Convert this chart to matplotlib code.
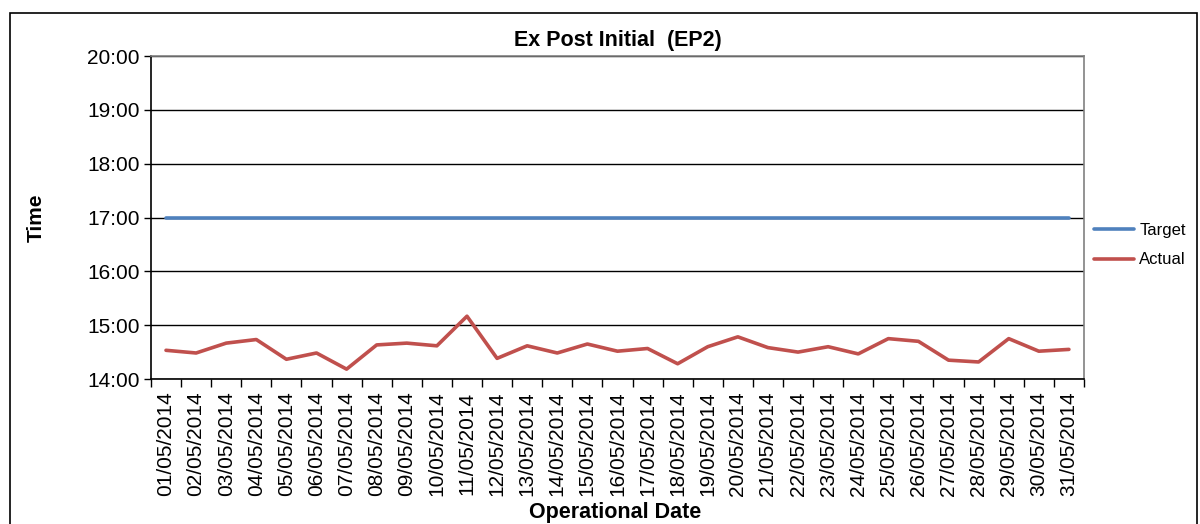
import matplotlib.pyplot as plt
from matplotlib.patches import Rectangle
from matplotlib.ticker import FuncFormatter, FixedLocator

plt.rcParams['font.family'] = ['Liberation Sans', 'DejaVu Sans']

#data
dates = ['%02d/05/2014' % d for d in range(1, 32)]
actual = ['14:32', '14:29', '14:40', '14:44', '14:22', '14:29', '14:11', '14:38',
          '14:40', '14:37', '15:10', '14:23', '14:37', '14:29', '14:39', '14:31',
          '14:34', '14:17', '14:36', '14:47', '14:35', '14:30', '14:36', '14:28',
          '14:45', '14:42', '14:21', '14:19', '14:45', '14:31', '14:33']
target = ['17:00'] * 31

def to_hours(s):
    h, m = s.split(':')
    return int(h) + int(m) / 60.0

def fmt(v, pos):
    h = int(v)
    m = int(round((v - h) * 60))
    return '%d:%02d' % (h, m)

x = list(range(len(dates)))
fig = plt.figure(figsize=(12, 5.24), dpi=100)
ax = fig.add_axes([0.1258, 0.2767, 0.9033 - 0.1258, 0.8931 - 0.2767])

ax.plot(x, [to_hours(t) for t in target], color='#4F81BD', lw=2.6, label='Target', solid_capstyle='round')
ax.plot(x, [to_hours(t) for t in actual], color='#C0504D', lw=2.6, label='Actual', solid_capstyle='round')

ax.set_ylim(14, 20)
ax.set_xlim(-0.5, len(dates) - 0.5)
ax.set_yticks(range(14, 21))
ax.yaxis.set_major_formatter(FuncFormatter(fmt))
ax.grid(axis='y', color='black', lw=1)
ax.set_axisbelow(True)

ax.set_xticks(x)
ax.set_xticklabels(dates, rotation=90, fontsize=15)
ax.xaxis.set_minor_locator(FixedLocator([i - 0.5 for i in range(len(dates) + 1)]))
ax.tick_params(axis='x', which='major', length=0, pad=9)
ax.tick_params(axis='x', which='minor', length=6, width=1, color='black')
ax.tick_params(axis='y', labelsize=15, length=5, width=1, color='black', pad=3)

for s in ['left', 'bottom']:
    ax.spines[s].set_color('black')
    ax.spines[s].set_linewidth(1.2)
for s in ['top', 'right']:
    ax.spines[s].set_color('#808080')
    ax.spines[s].set_linewidth(1.2)

ax.set_title('Ex Post Initial  (EP2)', fontsize=15.5, fontweight='bold', pad=7)
ax.set_ylabel('Time', fontsize=15, fontweight='bold', labelpad=30)
fig.text(0.5125, 0.011, 'Operational Date', fontsize=15.5, fontweight='bold', ha='center')

leg = fig.legend(loc='upper left', bbox_to_anchor=(0.912, 0.574), frameon=False,
                 fontsize=12, handlelength=2.4, handletextpad=0.3, labelspacing=0.85,
                 borderpad=0, borderaxespad=0)

fig.patches.append(Rectangle((10 / 1200, -0.01), 1187 / 1200, 1 - 13 / 524 + 0.01,
                             transform=fig.transFigure, fill=False, edgecolor='black', lw=1.2))

fig.savefig('out.png', dpi=100)
